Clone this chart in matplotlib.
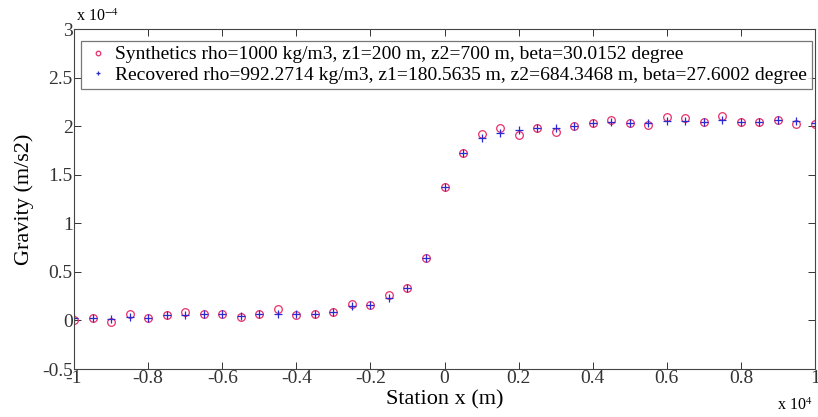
import matplotlib
matplotlib.use("Agg")
import matplotlib.pyplot as plt

# Station positions in units of 1e4 m
station_x = [-1.0, -0.95, -0.9, -0.85, -0.8, -0.75, -0.7, -0.65, -0.6, -0.55,
             -0.5, -0.45, -0.4, -0.35, -0.3, -0.25, -0.2, -0.15, -0.1, -0.05,
             0.0, 0.05, 0.1, 0.15, 0.2, 0.25, 0.3, 0.35, 0.4, 0.45,
             0.5, 0.55, 0.6, 0.65, 0.7, 0.75, 0.8, 0.85, 0.9, 0.95, 1.0]

# Gravity in units of 1e-4 m/s2
synthetic = [0.00, 0.03, -0.02, 0.07, 0.02, 0.06, 0.085, 0.065, 0.07, 0.04,
             0.065, 0.12, 0.06, 0.07, 0.09, 0.165, 0.16, 0.26, 0.335, 0.64,
             1.37, 1.72, 1.92, 1.98, 1.91, 1.985, 1.94, 2.005, 2.03, 2.06,
             2.03, 2.01, 2.09, 2.08, 2.04, 2.10, 2.04, 2.04, 2.06, 2.02, 2.02]
recovered = [0.02, 0.03, 0.01, 0.04, 0.03, 0.06, 0.06, 0.065, 0.07, 0.045,
             0.065, 0.07, 0.065, 0.07, 0.09, 0.15, 0.16, 0.235, 0.335, 0.64,
             1.37, 1.72, 1.875, 1.93, 1.96, 1.985, 1.985, 2.005, 2.03, 2.04,
             2.03, 2.03, 2.055, 2.055, 2.04, 2.06, 2.04, 2.04, 2.06, 2.05, 2.03]

label_syn = "Synthetics rho=1000 kg/m3, z1=200 m, z2=700 m, beta=30.0152 degree"
label_rec = "Recovered rho=992.2714 kg/m3, z1=180.5635 m, z2=684.3468 m, beta=27.6002 degree"

x_ticks = [-1, -0.8, -0.6, -0.4, -0.2, 0, 0.2, 0.4, 0.6, 0.8, 1]
x_tick_labels = ["-1", "-0.8", "-0.6", "-0.4", "-0.2", "0", "0.2", "0.4", "0.6", "0.8", "1"]
y_ticks = [-0.5, 0, 0.5, 1, 1.5, 2, 2.5, 3]
y_tick_labels = ["-0.5", "0", "0.5", "1", "1.5", "2", "2.5", "3"]

plt.rcParams['font.family'] = ['Liberation Serif', 'DejaVu Serif']
plt.rcParams['mathtext.fontset'] = 'stix'

fig = plt.figure(figsize=(8.18, 4.17), dpi=100)
ax = fig.add_axes([74/818, 1-369/417, (815-74)/818, (369-29)/417])

ax.plot(station_x, synthetic, linestyle='none', marker='o', markersize=5.5,
        markerfacecolor='none', markeredgecolor='#e8306a', markeredgewidth=0.9,
        label=label_syn)
ax.plot(station_x, recovered, linestyle='none', marker='+', markersize=5.5,
        color='#2a2ad0', markeredgewidth=0.9, label=label_rec)

ax.set_xlim(-1, 1)
ax.set_ylim(-0.5, 3)
ax.set_xticks(x_ticks)
ax.set_xticklabels(x_tick_labels)
ax.set_yticks(y_ticks)
ax.set_yticklabels(y_tick_labels)
ax.tick_params(direction='in', top=True, right=True, labelsize=14, length=5,
               width=0.7, colors='#333333', pad=1)
for s in ax.spines.values():
    s.set_linewidth(0.8)
    s.set_color('#444444')

ax.set_xlabel("Station x (m)", fontsize=16, labelpad=2)
ax.set_ylabel("Gravity (m/s2)", fontsize=16, labelpad=6)

fig.text(76/818, 1-17/417, r"x 10$^{-4}$", fontsize=11.5, ha='left', va='center')
fig.text(777/818, 1-406/417, r"x 10$^{4}$", fontsize=11.5, ha='left', va='center')

leg = ax.legend(loc='upper right', bbox_to_anchor=(812/818, 1-41/417),
                bbox_transform=fig.transFigure, borderaxespad=0,
                fontsize=14, frameon=True, fancybox=False,
                edgecolor='#555555', borderpad=0.25, handlelength=1.2,
                handletextpad=0.3, labelspacing=0.15, markerscale=0.6)
leg.get_frame().set_linewidth(0.9)

fig.savefig("out.png", dpi=100)
